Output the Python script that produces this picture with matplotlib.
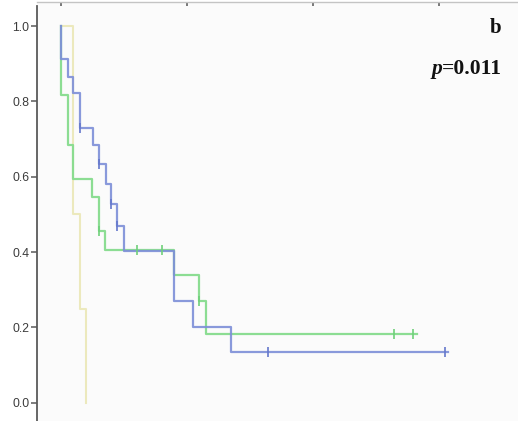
import numpy as np
import matplotlib
matplotlib.use("Agg")
import matplotlib.pyplot as plt

# ---- data (time units; top ticks at 0, 50, 100, 150) ----
blue_times = [0, 0, 2.66, 4.88, 7.55, 12.6, 15.2, 17.9, 19.9, 22.1, 25.0, 44.9, 52.3, 67.4, 153.8]
blue_surv = [1.0, 0.912, 0.866, 0.822, 0.730, 0.684, 0.633, 0.580, 0.528, 0.469, 0.404, 0.271, 0.202, 0.1355, 0.1355]
blue_censor = [7.55, 15.2, 19.9, 22.1, 82.3, 152.5]

green_times = [0, 0, 2.66, 4.88, 12.2, 15.1, 17.5, 44.9, 54.9, 57.5, 141.3]
green_surv = [1.0, 0.818, 0.684, 0.594, 0.547, 0.457, 0.405, 0.339, 0.271, 0.182, 0.182]
green_censor = [15.1, 30.0, 40.0, 54.9, 132.4, 139.9]

yellow_times = [0, 4.88, 7.55, 9.93]
yellow_surv = [1.0, 0.5, 0.25, 0.0]

ytick_vals = [0.0, 0.2, 0.4, 0.6, 0.8, 1.0]
ytick_labels = ["0.0", "0.2", "0.4", "0.6", "0.8", "1.0"]
xtick_vals = [0, 50, 100, 150]

panel_label = "b"
p_text = "=0.011"

BLUE = "#7d8ed8"
GREEN = "#86dc8e"
YELLOW = "#ece9bd"

W, H = 518, 421
fig = plt.figure(figsize=(W / 100, H / 100), dpi=100)
left_px, top_px = 36.5, 1.5
ax = fig.add_axes([left_px / W, 0, (W - left_px) / W, (H - top_px) / H])
ax.set_facecolor("#fbfbfb")


def surv_at(times, surv, t):
    idx = np.searchsorted(np.array(times), t, side="right") - 1
    return np.array(surv)[idx]


ax.step(yellow_times, yellow_surv, where="post", color=YELLOW, lw=1.5, zorder=2)
ax.step(green_times, green_surv, where="post", color=GREEN, lw=1.6, alpha=0.95, zorder=3)
ax.step(blue_times, blue_surv, where="post", color=BLUE, lw=1.6, alpha=0.9, zorder=4)

gc = np.array(green_censor)
ax.plot(gc, surv_at(green_times, green_surv, gc), ls="none", marker="|",
        ms=7, mew=1.2, color="#6fd07a", zorder=5)
bc = np.array(blue_censor)
ax.plot(bc, surv_at(blue_times, blue_surv, bc), ls="none", marker="|",
        ms=7, mew=1.2, color="#6478cc", zorder=6)

# axes scales: 0.0 at px 402.7, 1.0 at px 26.2; x 0 at px 61, 2.518 px/unit
ax.set_ylim(-0.0486, 1.0656)
ax.set_xlim((left_px - 61) / 2.518, (W - 61) / 2.518)

for s in ["right", "bottom"]:
    ax.spines[s].set_visible(False)
ax.spines["left"].set_color("#5a5a5a")
ax.spines["left"].set_linewidth(1.3)
ax.spines["left"].set_bounds(-0.0486, 1.053)
ax.spines["top"].set_color("#c4c4c4")
ax.spines["top"].set_linewidth(1.0)

ax.set_yticks(ytick_vals)
ax.set_yticklabels(ytick_labels, fontfamily="Liberation Sans", fontsize=8.8, color="#3c3c3c")
ax.tick_params(axis="y", length=4.3, width=1.1, color="#5a5a5a", pad=1)

ax.xaxis.tick_top()
ax.set_xticks(xtick_vals)
ax.set_xticklabels([])
ax.tick_params(axis="x", top=True, bottom=False, direction="in", length=3.2,
               width=1.1, color="#555555")

fig.text(501 / W, 1 - 28 / H, panel_label, ha="right", va="center",
         fontfamily="Liberation Serif", fontweight="bold", fontsize=15, color="#111111")
t2 = fig.text(502 / W, 1 - 69 / H, p_text, ha="right", va="center",
              fontfamily="Liberation Serif", fontweight="bold", fontsize=15.5, color="#111111")
fig.canvas.draw()
bb = t2.get_window_extent(renderer=fig.canvas.get_renderer())
fig.text(bb.x0 / W, 1 - 69 / H, "p", ha="right", va="center",
         fontfamily="Liberation Serif", fontweight="bold", fontstyle="italic",
         fontsize=15.5, color="#111111")

fig.savefig("out.png", dpi=100)
